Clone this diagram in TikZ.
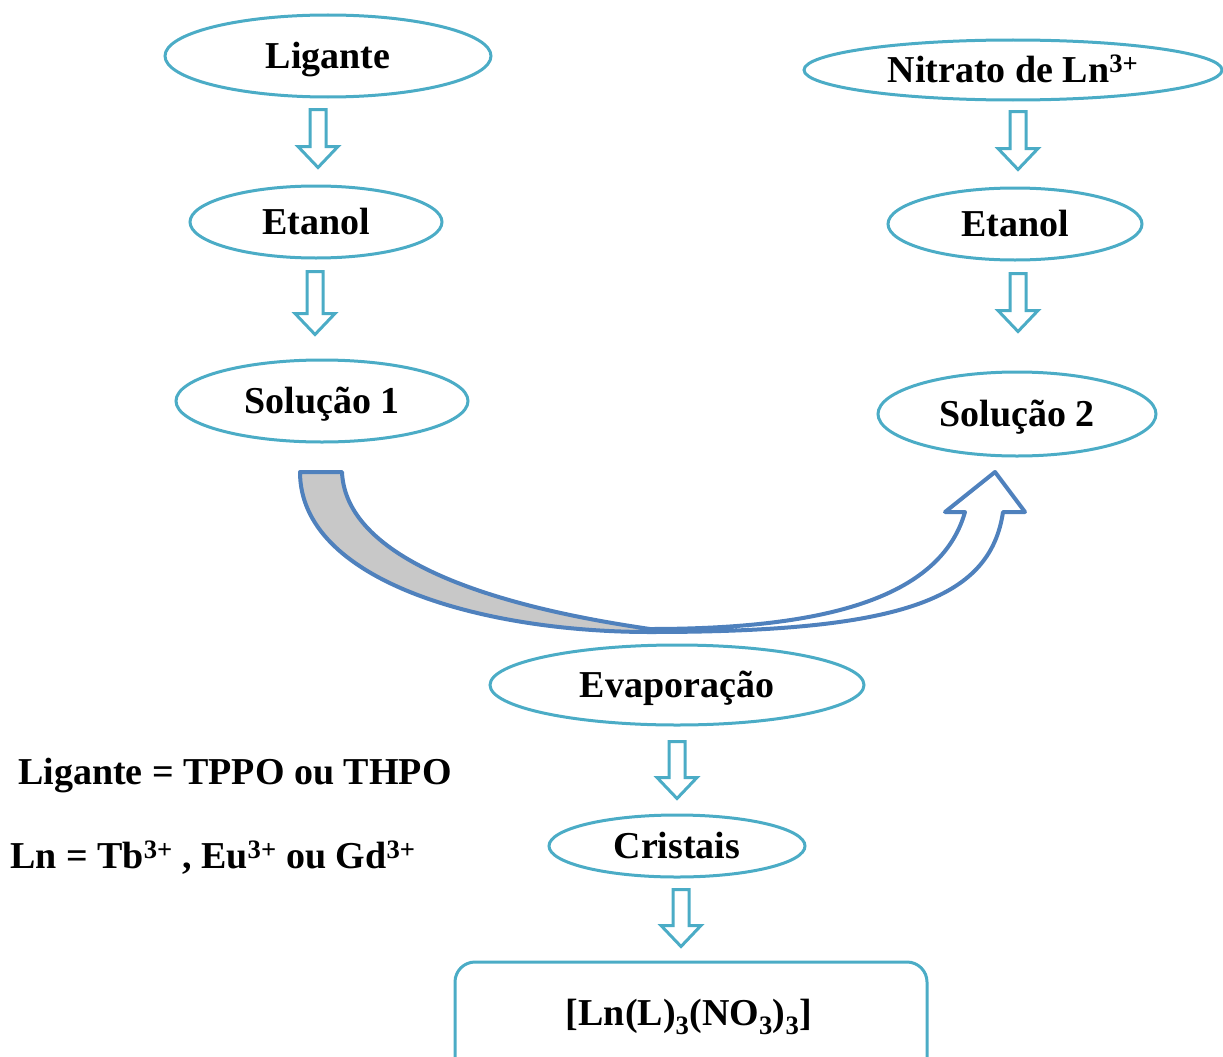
\documentclass[tikz,border=0pt]{standalone}
\usepackage{fontspec}
\setmainfont{Liberation Serif}
\usetikzlibrary{shapes.geometric,calc}
\definecolor{teal}{RGB}{75,172,198}
\definecolor{flowblue}{RGB}{79,129,189}
\definecolor{bandgray}{RGB}{200,200,200}
\tikzset{
  stage/.style={ellipse, draw=teal, line width=3pt, fill=white, inner sep=0pt,
    text height=24pt, text depth=0pt,
    font=\fontsize{38}{42}\selectfont\bfseries},
  result/.style={rectangle, inner sep=0pt, text height=24pt, text depth=0pt,
    font=\fontsize{38}{42}\selectfont\bfseries},
  legend/.style={anchor=base west, inner sep=0pt, font=\fontsize{38}{42}\selectfont\bfseries},
  hollowarrow/.style={draw=teal, line width=3pt, fill=white, line join=miter},
  bigarrow/.style={draw=flowblue, line width=4pt, line join=round}
}
% downward block arrow: start coordinate, total length
\newcommand\hollowdown[2]{%
  \draw[hollowarrow] (#1) ++(-8,0) -- ++(0,#2-21) -- ++(-12,0) -- ++(20,21)
    -- ++(20,-21) -- ++(-12,0) -- ++(0,-#2+21) -- cycle;}
\begin{document}
\begin{tikzpicture}[x=1pt,y=-1pt]
\useasboundingbox (0,0) rectangle (1223,1057);

% left branch
\node[stage, minimum width=326, minimum height=82] (lig) at (328,56) {Ligante};
\node[stage, minimum width=252, minimum height=72] (et1) at (316,222) {Etanol};
\node[stage, minimum width=292, minimum height=82] (sol1) at (322,401) {Solução 1};

% right branch
\node[stage, minimum width=418, minimum height=60] (nit) at (1013,70) {Nitrato de Ln\textsuperscript{3+}};
\node[stage, minimum width=254, minimum height=72] (et2) at (1015,224) {Etanol};
\node[stage, minimum width=278, minimum height=84] (sol2) at (1017,414) {Solução 2};

% lower part
\node[stage, minimum width=374, minimum height=80] (evap) at (677,685) {Evaporação};
\node[stage, minimum width=256, minimum height=62] (crist) at (677,846) {Cristais};
\draw[teal, line width=3pt, rounded corners=20pt] (455,1058) -- (455,962) -- (927,962) -- (927,1058);
\node[result, minimum width=472, minimum height=96] (prod) at (689,1013) {[Ln(L)\textsubscript{3}(NO\textsubscript{3})\textsubscript{3}]};

% legend
\node[legend] (leg1) at (18,784) {Ligante = TPPO ou THPO};
\node[legend] (leg2) at (10,868) {Ln = Tb\textsuperscript{3+} , Eu\textsuperscript{3+} ou Gd\textsuperscript{3+}};

% block arrows between stages
\coordinate (a1) at ($(lig.south)+(-10,11)$);
\coordinate (a2) at ($(et1.south)+(-1,12)$);
\coordinate (a3) at ($(nit.south)+(5,10)$);
\coordinate (a4) at ($(et2.south)+(3,12)$);
\coordinate (a5) at ($(evap.south)+(0,15)$);
\coordinate (a6) at ($(crist.south)+(4,11)$);
\hollowdown{a1}{58}
\hollowdown{a2}{63}
\hollowdown{a3}{58}
\hollowdown{a4}{58}
\hollowdown{a5}{57}
\hollowdown{a6}{57}

% curved transfer arrow from Solução 1 to Solução 2
\coordinate (c0) at (300,472);
\coordinate (c1) at (342,472);
\coordinate (cb) at (650,632);
\coordinate (ci) at (650,629);
\coordinate (ho) at (1003,512);
\coordinate (hi) at (965,512);
\coordinate (tip) at (995,472);
\fill[bandgray] (c0) .. controls (300,580) and (480,632) .. (cb)
   -- (ci) .. controls (450,600) and (345,545) .. (c1) -- cycle;
\draw[bigarrow] (c0) .. controls (300,580) and (480,632) .. (cb)
   .. controls (900,632) and (990,600) .. (ho)
   -- (1025,512) -- (tip) -- (945,512) -- (hi)
   .. controls (940,600) and (820,629) .. (ci)
   .. controls (450,600) and (345,545) .. (c1) -- cycle;
\end{tikzpicture}
\end{document}
